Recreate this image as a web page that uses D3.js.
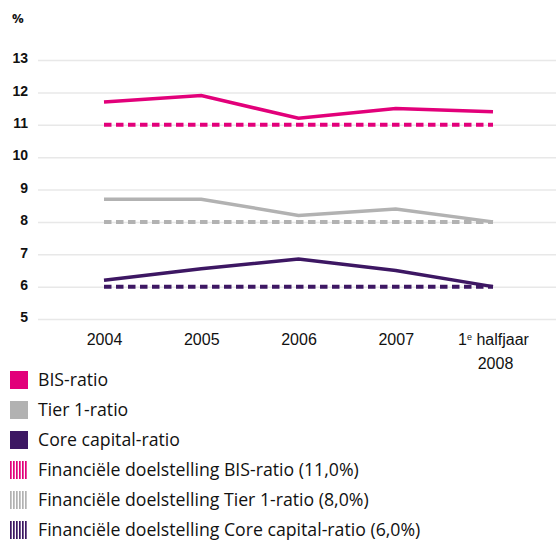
<!DOCTYPE html>
<html>
<head>
<meta charset="utf-8">
<script src="https://cdn.jsdelivr.net/npm/d3@7"></script>
<style>
  body { margin: 0; background: #fff; }
  svg { font-family: "Open Sans", Lato, sans-serif; }
</style>
</head>
<body>
<svg id="chart" width="556" height="540"></svg>
<script>
const periods = ["2004", "2005", "2006", "2007", "H1 2008"];
const bisRatio = [11.7, 11.9, 11.2, 11.5, 11.4];
const tier1Ratio = [8.7, 8.7, 8.2, 8.4, 8.0];
const coreRatio = [6.2, 6.55, 6.85, 6.5, 6.0];
const bisTarget = [11, 11, 11, 11, 11];
const tier1Target = [8, 8, 8, 8, 8];
const coreTarget = [6, 6, 6, 6, 6];
const yTicks = [5, 6, 7, 8, 9, 10, 11, 12, 13];

const pink = "#e2007a", grey = "#b2b2b2", purple = "#3d1763";

const series = [
  {name: "BIS-ratio", values: bisRatio, color: pink, dashed: false},
  {name: "Tier 1-ratio", values: tier1Ratio, color: grey, dashed: false},
  {name: "Core capital-ratio", values: coreRatio, color: purple, dashed: false},
  {name: "Financiële doelstelling BIS-ratio (11,0%)", values: bisTarget, color: pink, dashed: true},
  {name: "Financiële doelstelling Tier 1-ratio (8,0%)", values: tier1Target, color: grey, dashed: true},
  {name: "Financiële doelstelling Core capital-ratio (6,0%)", values: coreTarget, color: purple, dashed: true}
];

const svg = d3.select("#chart");

// scales
const x = d3.scalePoint().domain(periods).range([104, 493]);
const y = d3.scaleLinear().domain([5, 13]).range([319, 60]);

// gridlines + y labels
const yAxis = svg.append("g")
  .attr("transform", "translate(38,0)")
  .call(d3.axisLeft(y).tickValues(yTicks).tickSize(-518).tickPadding(10).tickFormat(d3.format("d")));
yAxis.select(".domain").remove();
yAxis.selectAll(".tick line").attr("stroke", "#e8e8e8").attr("stroke-width", 1.5);
yAxis.selectAll(".tick text")
  .attr("fill", "#111")
  .attr("dy", "0.2em")
  .style("font-size", "14px")
  .style("font-weight", "bold");

svg.append("text")
  .attr("x", 12).attr("y", 23)
  .style("font-size", "13px")
  .style("font-weight", "bold")
  .attr("fill", "#111")
  .text("%");

// x labels
const xAxis = svg.append("g")
  .attr("transform", "translate(0,319)")
  .call(d3.axisBottom(x).tickSize(0).tickPadding(15));
xAxis.select(".domain").remove();
xAxis.selectAll(".tick text")
  .attr("fill", "#111")
  .style("font-size", "16px")
  .each(function(d) {
    if (d === "H1 2008") {
      const t = d3.select(this).text(null);
      t.append("tspan").text("1");
      t.append("tspan").attr("baseline-shift", "super").style("font-size", "9px").text("e");
      t.append("tspan").text(" halfjaar");
      t.append("tspan").attr("x", 2).attr("dy", "1.45em").text("2008");
    }
  });

// lines
const line = d3.line()
  .x((d, i) => x(periods[i]))
  .y(d => y(d));

svg.selectAll("path.series")
  .data(series)
  .enter()
  .append("path")
  .attr("class", "series")
  .attr("fill", "none")
  .attr("stroke", d => d.color)
  .attr("stroke-width", d => d.dashed ? 4 : 3.5)
  .attr("stroke-dasharray", d => d.dashed ? "7.5,4.5" : null)
  .attr("d", d => line(d.values));

// legend
const defs = svg.append("defs");
series.filter(s => s.dashed).forEach((s, i) => {
  const p = defs.append("pattern")
    .attr("id", "hatch" + i)
    .attr("patternUnits", "userSpaceOnUse")
    .attr("width", 3).attr("height", 3);
  p.append("rect").attr("width", 3).attr("height", 3).attr("fill", "#fff");
  p.append("rect").attr("width", 1.7).attr("height", 3).attr("fill", s.color);
});

const legend = svg.append("g").attr("transform", "translate(10,371)");
let hatchIdx = 0;
series.forEach((s, i) => {
  const g = legend.append("g").attr("transform", "translate(0," + (i * 30) + ")");
  g.append("rect")
    .attr("width", 18).attr("height", 18)
    .attr("fill", s.dashed ? "url(#hatch" + (hatchIdx++) + ")" : s.color);
  g.append("text")
    .attr("x", 28).attr("y", 15)
    .style("font-size", "17.7px")
    .attr("fill", "#111")
    .text(s.name);
});
</script>
</body>
</html>
